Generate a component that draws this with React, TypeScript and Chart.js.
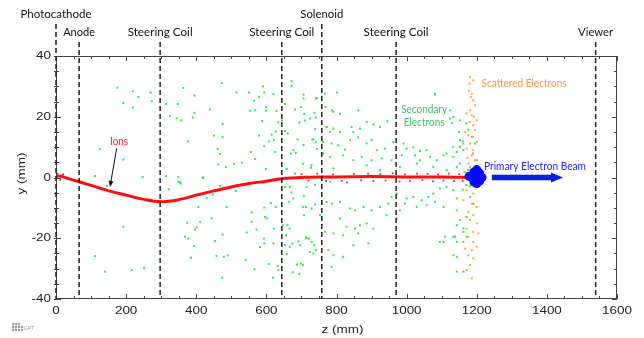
import { useEffect, useRef } from "react";
import { Chart, registerables } from "chart.js";

Chart.register(...registerables);

// ---- axis ticks ----
const X_TICKS = [0, 200, 400, 600, 800, 1000, 1200, 1400, 1600];
const Y_TICKS = [-40, -20, 0, 20, 40];

// ---- beamline elements (z in mm) ----
const ELEMENT_NAMES = ["Photocathode", "Anode", "Steering Coil", "Steering Coil", "Solenoid", "Steering Coil", "Viewer"];
const ELEMENT_Z = [0, 66, 297, 644, 758, 970, 1539];
const ELEMENT_ROW = [0, 1, 1, 1, 0, 1, 1];

// ---- ions (centre of the red trace) ----
const IONS_Z = [0, 10, 30, 66, 100, 150, 200, 250, 300, 350, 400, 450, 500, 550, 600, 650, 700, 750, 800, 900, 1000, 1100, 1185];
const IONS_Y = [0.3, 0.5, -0.2, -1.4, -2.6, -4.4, -5.8, -7.2, -8.0, -7.3, -5.8, -4.4, -3.1, -2.0, -1.2, -0.3, 0, 0.2, 0.2, 0.3, 0.2, 0.2, 0];

// scattered ion speckle around the flat part of the trace
const IONS_SPECKLE: [number, number][] = [
  [5, 1.2], [12, -0.8], [20, 1.0], [700, 1.1], [720, -1.0], [745, 1.3], [770, -1.2], [790, 1.0], [815, -1.1], [830, -1.6],
  [850, 1.2], [870, -0.9], [890, 1.3], [905, -1.2], [925, 1.1], [940, -1.0], [960, 1.4], [980, -1.3], [995, 1.0], [1010, -1.1],
  [1030, 1.3], [1045, -0.9], [1060, 1.2], [1075, -1.3], [1090, 1.0], [1105, -1.0], [1120, 1.3], [1135, -1.2], [1150, 1.1], [1160, -1.1], [1170, 1.0],
];

// ---- secondary electrons ----
const SECONDARY: [number, number][] = [
  [175, 29.6], [219, 28.4], [192, 24.5], [219, 23], [235, 26.5], [270, 28], [273, 25.1], [125, 9.3], [192, 5.9], [111, 0.5],
  [247, 0.2], [145, -2.8], [349, 0.2], [354, -1.6], [111, -25.9], [192, -16.2], [216, -30.5], [140, -31], [251, -29.7],
  [363, 29.5], [473, 31.1], [395, 27], [314, 24.2], [347, 24.2], [515, 28], [551, 28], [590, 30], [579, 26.6], [594, 28],
  [620, 27.4], [565, 25.3], [395, 21.3], [439, 22.4], [390, 19.8], [325, 20.2], [344, 19.5], [357, 18.8], [475, 17.6], [553, 22],
  [568, 22.1], [599, 23.2], [599, 22], [588, 18.6], [629, 21.9], [451, 13.8], [475, 13.3], [377, 11.9], [579, 13.8], [607, 11.9],
  [622, 12.3], [627, 15.2], [615, 14.1], [594, 10.3], [461, 9.4], [468, 7.8], [556, 8.4], [625, 8.4], [568, 6.1], [530, 4.9],
  [508, 4.5], [463, 4.3], [485, 3.4], [599, 2.8], [418, -0.1], [314, 0.4],
  [672, 31.7], [672, 30.1], [706, 27.3], [706, 26], [741, 26], [653, 24.2], [699, 23.2], [682, 22.4], [708, 20.9], [737, 21.3],
  [724, 19.4], [710, 18.8], [694, 18.1], [741, 19.8], [634, 18.2], [645, 18.8], [653, 15.3], [661, 14.5], [739, 15.9], [689, 12.5],
  [731, 12.5], [741, 11.6], [706, 10.7], [677, 9], [684, 8.1], [670, 7.9], [744, 9.4], [704, 4.5], [727, 3.2], [658, 2.8], [682, 1.3],
  [349, -1.4], [356, -2], [420, 0], [322, -3.9], [468, -2.8], [513, -4.4], [447, -5.6], [430, -6.7], [406, -9.7], [487, -9.7],
  [558, -11.5], [594, -9.9], [613, -8.4], [627, -9.7], [596, -13], [602, -13.5], [411, -14.6], [374, -14.9], [401, -16.4], [396, -17.1],
  [444, -13.5], [558, -14.6], [572, -17.1], [622, -16.8], [368, -19.5], [377, -20.1], [475, -18.8], [453, -20.9], [544, -18.1], [593, -20.1],
  [594, -21.7], [582, -22.9], [620, -21.7], [394, -22.6], [458, -25.8], [479, -26.1], [490, -25.6], [385, -26.4], [541, -27.2], [607, -28.5],
  [566, -30.2], [474, -33], [619, -33], [632, -29.1], [634, -30.5],
  [653, -3.1], [667, -3.1], [672, -4.9], [677, -6.9], [664, -8], [707, -6], [713, -9.7], [729, -10.2], [739, -8.9], [648, -15.7],
  [660, -15.7], [666, -16.8], [707, -12.4], [656, -19], [653, -22.3], [667, -22.8], [674, -21.7], [691, -21], [696, -22.3], [713, -19.7],
  [722, -20.1], [729, -21.2], [736, -22.3], [724, -24.5], [734, -25], [741, -23.9], [687, -28.6], [698, -28.3], [704, -28.8], [675, -31.2],
  [694, -31.8], [658, -25.2],
  [744, 26.2], [767, 27.6], [802, 28], [769, 23.2], [787, 22.1], [791, 21.6], [810, 21], [862, 22.1], [772, 16.6], [782, 15],
  [791, 16.1], [810, 15], [843, 16.6], [848, 15], [867, 16.1], [886, 18.3], [905, 17.5], [924, 16.6], [945, 18.5], [734, 12.5],
  [762, 11.7], [786, 11.2], [805, 10.6], [824, 9.2], [839, 12.3], [862, 13.2], [886, 11.2], [900, 12.3], [915, 9], [938, 9.5],
  [762, 7.9], [782, 6.8], [819, 7.3], [848, 5.7], [872, 6.8], [900, 5.7], [929, 6.3], [957, 5.7], [986, 7.3], [1000, 9.5],
  [1024, 7.3], [1038, 5.7], [1057, 9], [1067, 6.8], [1086, 5.7], [1105, 7.3], [1133, 6.8], [1143, 8.4], [1152, 10.1], [1162, 11.2],
  [1081, 27.3], [729, 4], [791, 3], [886, 4], [924, 2.4], [981, 3.5], [1029, 4.6], [1076, 3.5], [1114, 2.4], [1143, 3.5],
  [1124, 19.4], [1130, 18], [1150, 15], [1160, 12], [962, 11.7], [991, 11.2], [1019, 9.9], [1038, 8.7],
  [715, -3.1], [739, -2.5], [782, -1.4], [705, -9.7], [772, -8], [787, -8.6], [810, -8], [839, -10.2], [853, -10.8], [877, -9.7],
  [900, -10.8], [924, -9.7], [948, -8.6], [957, -6.4], [972, -5.3], [981, -10.8], [995, -8.6], [1000, -6.9], [1019, -6.4], [1043, -7.5],
  [1062, -6.4], [1076, -5.3], [1095, -3.6], [1114, -3.1], [1133, -4.2], [1143, -6.9], [1057, -9.1], [1081, -8], [1029, -9.7], [1105, -9.7],
  [753, -12.4], [810, -13.5], [829, -16.2], [853, -16.8], [867, -15.7], [886, -15.1], [905, -16.8], [819, -19], [862, -18.4], [791, -18.4],
  [767, -17.9], [715, -20], [777, -23.9], [791, -25.6], [819, -26.1], [848, -22.3], [891, -21.7], [786, -29.4], [1095, -21.2], [1110, -19.5],
  [1133, -19.5], [1143, -21.2], [1133, -25.6], [1143, -26.1], [1162, -31], [943, -12.4], [972, -13.5],
  [1143, -10.8], [1152, -14], [1171, -13], [1162, -16.8], [1143, -15.7], [1162, -17.9], [1171, -19.5], [1138, -19.5], [1105, -21.2], [1162, -21.2],
  [1143, -31], [1181, -6.4], [1190, -8.6], [1124, 22.1], [1133, 19.9], [1152, 18.8], [1171, 17.8], [1176, 15.6], [1186, 13.4], [1195, 11.2],
  [1152, 12.3], [1133, 10.1], [1114, 7.9], [1162, 9], [1190, 7.9], [1200, 5.7], [1181, 3.5], [1152, 4.6], [1081, 27.6],
  [1170, -2.5], [1180, -3], [1160, -4], [1175, 2.5], [1165, 1.8],
];

// ---- scattered electrons ----
const SCATTERED: [number, number][] = [
  [1181, 33.1], [1190, 32], [1179, 30.9], [1186, 27.6], [1183, 26.5], [1190, 25.4], [1195, 23.8], [1181, 22.1], [1171, 21.1], [1186, 20.5],
  [1200, 18.8], [1181, 18.3], [1190, 17.2], [1195, 15.6], [1167, 15], [1176, 13.9], [1190, 13.4], [1200, 11.7], [1181, 11.2], [1171, 9.5],
  [1190, 9], [1186, 7.3], [1195, 5.7], [1176, 4.6], [1200, 3.5], [1181, 2.4],
  [1171, -4.2], [1190, -5.3], [1162, -7.5], [1186, -8.6], [1200, -9.7], [1176, -11.3], [1190, -12.4], [1181, -14], [1200, -15.1], [1171, -16.8],
  [1190, -17.9], [1205, -18.4], [1176, -19.5], [1190, -21.2], [1167, -23.4], [1186, -23.9], [1200, -22.8], [1176, -25.6], [1190, -26.6], [1181, -28.8],
  [1171, -30.5], [1186, -33.2], [1178, 28.5], [1192, 20], [1173, 6.5], [1198, -2.8], [1188, 1], [1195, -1], [1205, 1.5],
];

// ---- primary electron beam spot ----
const BEAM: [number, number][] = [
  [1178, 0.4], [1185, 0], [1192, 1.8], [1192, -1.5], [1200, 0.5], [1200, 2.6], [1200, -2.0], [1208, 1.5], [1208, -1.2], [1215, 0],
];

const toXY = (pts: [number, number][]) => pts.map(([x, y]) => ({ x, y }));

function drawText(
  ctx: CanvasRenderingContext2D, s: string, x: number, y: number, font: string, color: string,
  align: CanvasTextAlign = "center", sx = 1, rot = 0
) {
  ctx.save();
  ctx.translate(x, y);
  if (rot) ctx.rotate(rot);
  ctx.scale(sx, 1);
  ctx.font = font;
  ctx.fillStyle = color;
  ctx.textAlign = align;
  ctx.textBaseline = "middle";
  ctx.fillText(s, 0, 0);
  ctx.restore();
}

// text with a target rendered width (mimics the stretched Calibri of the source)
function drawFitted(ctx: CanvasRenderingContext2D, s: string, cx: number, cy: number, font: string, color: string, width: number) {
  ctx.save();
  ctx.font = font;
  const w = ctx.measureText(s).width;
  ctx.restore();
  drawText(ctx, s, cx, cy, font, color, "center", width / w);
}

const LABEL_FONT = "10.5px Lato, 'Open Sans', sans-serif";
const TICK_FONT = "11.5px 'Liberation Sans', Arial, sans-serif";

const overlay = {
  id: "overlay",
  afterDatasetsDraw(chart: any) {
    const ctx: CanvasRenderingContext2D = chart.ctx;
    const xs = chart.scales.x;
    const ys = chart.scales.y;
    const area = chart.chartArea;
    const L = area.left, R = area.right, T = area.top, B = area.bottom;

    // frame
    ctx.save();
    ctx.strokeStyle = "#444";
    ctx.lineWidth = 1;
    ctx.strokeRect(L + 0.5, T + 0.5, R - L - 1, B - T - 1);

    // x ticks (inside, top and bottom)
    for (let z = 0; z <= 1600; z += 50) {
      const px = Math.round(xs.getPixelForValue(z)) + 0.5;
      const len = z % 200 === 0 ? 5 : 3;
      ctx.beginPath();
      ctx.moveTo(px, B); ctx.lineTo(px, B - len);
      ctx.moveTo(px, T); ctx.lineTo(px, T + len);
      ctx.stroke();
    }
    // y ticks (inside, left and right)
    for (let v = -40; v <= 40; v += 5) {
      const py = Math.round(ys.getPixelForValue(v)) + 0.5;
      const len = v % 20 === 0 ? 5 : 3;
      ctx.beginPath();
      ctx.moveTo(L - 2, py); ctx.lineTo(L + len, py);
      ctx.moveTo(R, py); ctx.lineTo(R - len, py);
      ctx.stroke();
    }
    ctx.restore();

    // tick labels
    X_TICKS.forEach((z) => drawText(ctx, String(z), xs.getPixelForValue(z), B + 12, TICK_FONT, "#222", "center", 1.17));
    Y_TICKS.forEach((v) => drawText(ctx, String(v), L - 5, ys.getPixelForValue(v), TICK_FONT, "#222", "right", 1.17));

    // axis titles
    drawText(ctx, "z (mm)", (L + R) / 2 + 6, B + 31, TICK_FONT, "#222", "center", 1.17);
    drawText(ctx, "y (mm)", 22, (T + B) / 2 - 4, TICK_FONT, "#222", "center", 1.17, -Math.PI / 2);

    // element dashed lines and labels
    ctx.save();
    ctx.strokeStyle = "#222";
    ctx.lineWidth = 1.5;
    ctx.setLineDash([5, 3]);
    ELEMENT_Z.forEach((z, i) => {
      const px = xs.getPixelForValue(z);
      const top = ELEMENT_ROW[i] === 0 ? 24 : 42;
      ctx.beginPath();
      ctx.moveTo(px, top);
      ctx.lineTo(px, B);
      ctx.stroke();
    });
    ctx.restore();
    const labelWidths: Record<string, number> = { Photocathode: 71, Anode: 32, "Steering Coil": 65, Solenoid: 43, Viewer: 35 };
    ELEMENT_NAMES.forEach((name, i) => {
      const px = xs.getPixelForValue(ELEMENT_Z[i]);
      const py = ELEMENT_ROW[i] === 0 ? 14.5 : 33;
      drawFitted(ctx, name, px, py, LABEL_FONT, "#111", labelWidths[name]);
    });

    // annotations
    const P = (z: number, y: number) => [xs.getPixelForValue(z), ys.getPixelForValue(y)];
    let [ax, ay] = P(180, 11.9);
    drawFitted(ctx, "Ions", ax, ay, LABEL_FONT, "#ff1a1a", 18);
    [ax, ay] = P(1050, 22.3);
    drawFitted(ctx, "Secondary", ax, ay, LABEL_FONT, "#3cc068", 46);
    [ax, ay] = P(1050, 18.0);
    drawFitted(ctx, "Electrons", ax, ay, LABEL_FONT, "#3cc068", 41);
    [ax, ay] = P(1335, 31);
    drawFitted(ctx, "Scattered Electrons", ax, ay, LABEL_FONT, "#f7943c", 85);
    [ax, ay] = P(1366, 3.7);
    drawFitted(ctx, "Primary Electron Beam", ax, ay, LABEL_FONT, "#2323e8", 102);

    // ions pointer arrow
    const [x1, y1] = P(173, 9.6);
    const [x2, y2] = P(154, -3.1);
    ctx.save();
    ctx.strokeStyle = "#111";
    ctx.fillStyle = "#111";
    ctx.lineWidth = 1;
    const ang = Math.atan2(y2 - y1, x2 - x1);
    ctx.beginPath();
    ctx.moveTo(x1, y1);
    ctx.lineTo(x2 - 4 * Math.cos(ang), y2 - 4 * Math.sin(ang));
    ctx.stroke();
    ctx.beginPath();
    ctx.moveTo(x2, y2);
    ctx.lineTo(x2 - 6 * Math.cos(ang) + 2.5 * Math.sin(ang), y2 - 6 * Math.sin(ang) - 2.5 * Math.cos(ang));
    ctx.lineTo(x2 - 6 * Math.cos(ang) - 2.5 * Math.sin(ang), y2 - 6 * Math.sin(ang) + 2.5 * Math.cos(ang));
    ctx.closePath();
    ctx.fill();
    ctx.restore();

    // beam arrow
    const [bx1, by] = P(1243, 0);
    const [bx2] = P(1446, 0);
    ctx.save();
    ctx.fillStyle = "#0a1fd8";
    ctx.fillRect(bx1, by - 2.8, bx2 - bx1 - 11, 5.6);
    ctx.beginPath();
    ctx.moveTo(bx2, by);
    ctx.lineTo(bx2 - 12, by - 5);
    ctx.lineTo(bx2 - 12, by + 5);
    ctx.closePath();
    ctx.fill();
    ctx.restore();

    // GPT logo
    ctx.save();
    ctx.fillStyle = "#9a9a9a";
    const dots = [[13, 324], [16, 324], [19, 324], [13, 327], [16, 327], [19, 327], [22, 327], [13, 330], [16, 330], [19, 330], [22, 330]];
    dots.forEach(([dx, dy]) => { ctx.beginPath(); ctx.arc(dx, dy, 1.2, 0, Math.PI * 2); ctx.fill(); });
    ctx.restore();
    drawText(ctx, "GPT", 24, 329, "5px 'Liberation Sans', sans-serif", "#9a9a9a", "left", 1);
  },
};

export default function App() {
  const ref = useRef<HTMLCanvasElement | null>(null);
  useEffect(() => {
    if (!ref.current) return;
    const chart = new Chart(ref.current, {
      type: "scatter",
      data: {
        datasets: [
          { label: "Primary Electron Beam", data: toXY(BEAM), pointRadius: 4.5, pointBackgroundColor: "#0a0aff", pointBorderWidth: 0, order: 0 } as any,
          { label: "Scattered Electrons", data: toXY(SCATTERED), pointStyle: "rect", pointRadius: 1.4, pointBackgroundColor: "#ffa726", pointBorderWidth: 0, order: 1 } as any,
          { label: "Ion speckle", data: toXY(IONS_SPECKLE), pointStyle: "rect", pointRadius: 1.2, pointBackgroundColor: "#ff1010", pointBorderWidth: 0, order: 2 } as any,
          {
            label: "Ions", data: IONS_Z.map((z, i) => ({ x: z, y: IONS_Y[i] })), showLine: true, borderColor: "#ff0d0d",
            borderWidth: 3, pointRadius: 0, cubicInterpolationMode: "monotone", order: 2,
          } as any,
          { label: "Secondary Electrons", data: toXY(SECONDARY), pointStyle: "rect", pointRadius: 1.4, pointBackgroundColor: "#2ee35a", pointBorderWidth: 0, order: 3 } as any,
        ],
      },
      options: {
        responsive: false,
        animation: false,
        events: [],
        layout: { padding: { left: 56, right: 27, top: 56, bottom: 39 } },
        plugins: { legend: { display: false }, tooltip: { enabled: false } },
        scales: {
          x: { type: "linear", min: 0, max: 1600, display: false },
          y: { type: "linear", min: -40, max: 40, display: false },
        },
      },
      plugins: [overlay],
    });
    return () => chart.destroy();
  }, []);
  return (
    <div style={{ position: "fixed", left: 0, top: 0, width: 644, height: 338, background: "#fff" }}>
      <canvas ref={ref} width={644} height={338} />
    </div>
  );
}
